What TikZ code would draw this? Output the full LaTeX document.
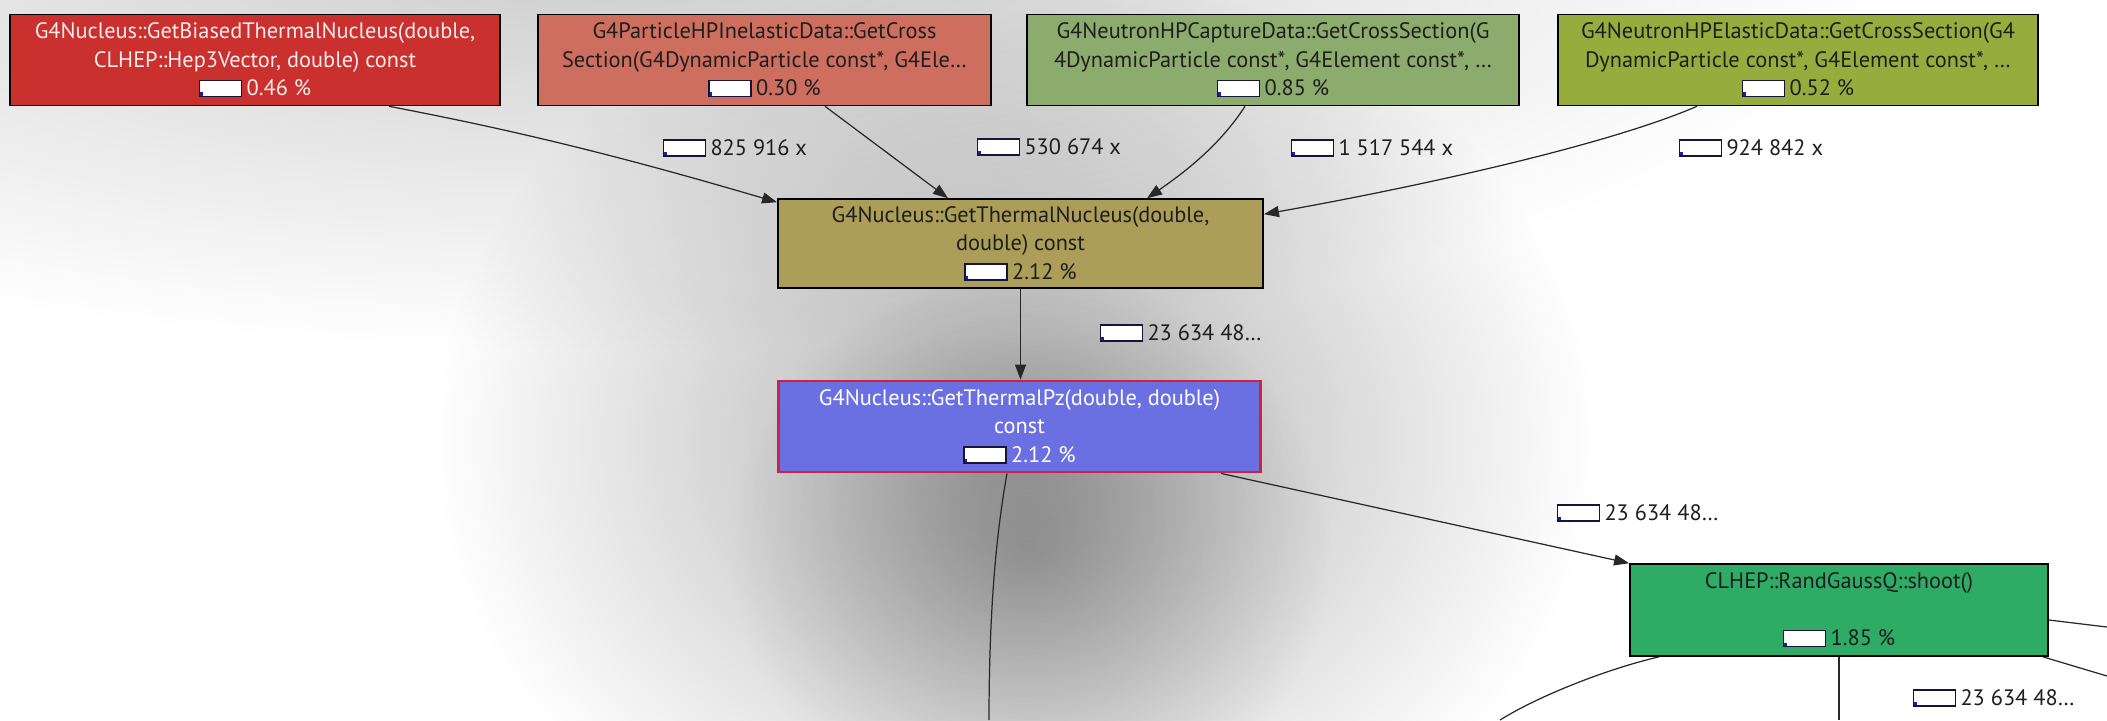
\documentclass[tikz,border=0pt]{standalone}
\usepackage{fontspec}
\setmainfont{PT Sans}
\usepackage{tikz}
\usetikzlibrary{positioning,arrows.meta,fadings}
\usepackage{xcolor}

\definecolor{fnred}{RGB}{201,48,46}
\definecolor{fnsalmon}{RGB}{205,110,95}
\definecolor{fnsage}{RGB}{140,172,110}
\definecolor{fnolive}{RGB}{152,172,62}
\definecolor{fnkhaki}{RGB}{172,157,88}
\definecolor{fnblue}{RGB}{106,112,226}
\definecolor{fngreen}{RGB}{46,172,102}
\definecolor{selred}{RGB}{205,35,65}
\definecolor{barline}{RGB}{20,20,60}
\definecolor{barfill}{RGB}{30,30,170}
\definecolor{textlight}{RGB}{250,236,236}
\definecolor{textdark}{RGB}{30,30,30}
\definecolor{edgegray}{RGB}{40,40,40}

\tikzfading[name=softglow, inner color=transparent!0, outer color=transparent!100]

\newcommand{\costbar}{{\setlength{\fboxsep}{0pt}\setlength{\fboxrule}{0.45pt}%
  \fcolorbox{barline}{white}{\textcolor{barfill}{\rule{0.7pt}{0.9pt}}\rule{0pt}{4.1pt}\hspace{10.8pt}}}\hspace{1.2pt}}

\begin{document}
\begin{tikzpicture}[x=0.01cm,y=-0.01cm]
	\tikzstyle{every node}=[font=\fontsize{6.35}{8.1}\selectfont]
	\tikzstyle{fn}=[shape=rectangle,draw=black,line width=0.45pt,align=center,inner sep=0pt,text=textdark,minimum height=0.91cm]
	\tikzstyle{cnt}=[anchor=west,inner sep=0pt,text=textdark]
	\tikzstyle{call}=[draw=edgegray,line width=0.35pt,-{Triangle[length=0.15cm,width=0.11cm]}]
	\tikzstyle{line}=[draw=edgegray,line width=0.35pt]

	% background
	\useasboundingbox (0,0) rectangle (2107,720);
	\fill[white] (0,0) rectangle (2107,720);
	\fill[black,opacity=0.2,path fading=softglow] (600,-50) ellipse (13cm and 4cm);
	\fill[black,opacity=0.32,path fading=softglow] (1015,440) ellipse (5.8cm and 4.8cm);
	\fill[black,opacity=0.25,path fading=softglow] (1030,550) ellipse (3cm and 2.8cm);

	% functions
	\node[fn,fill=fnred,text=textlight,minimum width=4.9cm] (biased) at (255,60) {G4Nucleus::GetBiasedThermalNucleus(double,\\CLHEP::Hep3Vector, double) const\\\costbar 0.46 \%};
	\node[fn,fill=fnsalmon,minimum width=4.53cm] (inelastic) at (764.5,60) {G4ParticleHPInelasticData::GetCross\\Section(G4DynamicParticle const*, G4Ele…\\\costbar 0.30 \%};
	\node[fn,fill=fnsage,minimum width=4.92cm] (capture) at (1273,60) {G4NeutronHPCaptureData::GetCrossSection(G\\4DynamicParticle const*, G4Element const*, …\\\costbar 0.85 \%};
	\node[fn,fill=fnolive,minimum width=4.8cm] (elastic) at (1798,60) {G4NeutronHPElasticData::GetCrossSection(G4\\DynamicParticle const*, G4Element const*, …\\\costbar 0.52 \%};
	\node[fn,fill=fnkhaki,minimum width=4.85cm,minimum height=0.89cm] (thermal) at (1020.5,243.5) {G4Nucleus::GetThermalNucleus(double,\\double) const\\\costbar 2.12 \%};
	\node[fn,fill=fnblue,draw=selred,line width=0.8pt,text=white,minimum width=4.81cm] (thermalpz) at (1019.5,426.5) {G4Nucleus::GetThermalPz(double, double)\\const\\\costbar 2.12 \%};
	\node[fn,fill=fngreen,minimum width=4.18cm,minimum height=0.92cm] (gauss) at (1839,610) {CLHEP::RandGaussQ::shoot()\\\mbox{}\\\costbar 1.85 \%};

	% call counts
	\node[cnt] (c1) at (662,148) {\costbar 825 916 x};
	\node[cnt] (c2) at (976,147) {\costbar 530 674 x};
	\node[cnt] (c3) at (1290,148) {\costbar 1 517 544 x};
	\node[cnt] (c4) at (1678,148) {\costbar 924 842 x};
	\node[cnt] (c5) at (1099,333) {\costbar 23 634 48…};
	\node[cnt] (c6) at (1556,513) {\costbar 23 634 48…};
	\node[cnt] (c7) at (1912,698) {\costbar 23 634 48…};

	% calls
	\draw[call] ([xshift=1.34cm]biased.south) .. controls (540,135) and (650,165) .. ([yshift=-0.04cm]thermal.north west);
	\draw[call] ([xshift=0.605cm]inelastic.south) -- ([xshift=-0.725cm]thermal.north);
	\draw[call] ([xshift=-0.28cm]capture.south) .. controls (1220,145) and (1185,172) .. ([xshift=1.265cm]thermal.north);
	\draw[call] ([xshift=-1.01cm]elastic.south) .. controls (1600,148) and (1400,190) .. ([yshift=-0.16cm]thermal.north east);
	\draw[call] (thermal.south) -- (thermal.south |- thermalpz.north);
	\draw[call] ([xshift=2.015cm]thermalpz.south) -- (gauss.north west);

	% calls leaving the view
	\coordinate (pzout) at (989,720);
	\coordinate (gaussright) at (2107,627);
	\coordinate (gausscorner) at (2107,676);
	\coordinate (gaussdown) at (1839,720);
	\coordinate (gaussleft) at (1500,720);
	\draw[line] ([xshift=-0.125cm]thermalpz.south) .. controls (995,540) and (989,620) .. (pzout);
	\draw[line] ([yshift=-0.1cm]gauss.east) -- (gaussright);
	\draw[line] ([xshift=-0.06cm]gauss.south east) -- (gausscorner);
	\draw[line] (gauss.south) -- (gaussdown);
	\draw[line] ([xshift=0.3cm]gauss.south west) .. controls (1610,668) and (1540,695) .. (gaussleft);
\end{tikzpicture}
\end{document}
